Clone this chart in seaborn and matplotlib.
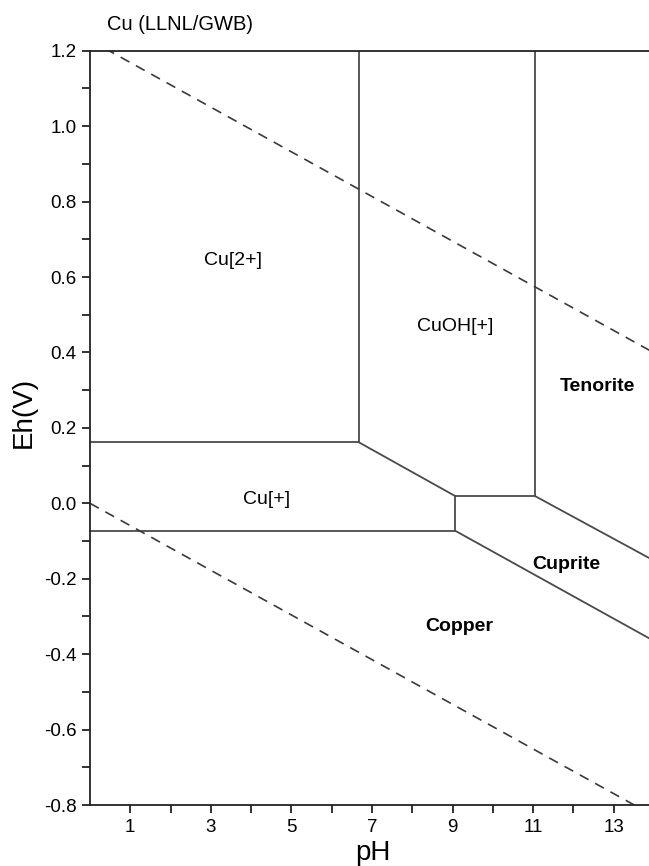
import matplotlib
matplotlib.use("Agg")
import matplotlib.pyplot as plt
import seaborn as sns

# --- boundary data (pH, Eh in V) ---
cu2_cu1_ph = [0.0, 6.67]
cu2_cu1_eh = [0.162, 0.162]
cu2_cuoh_ph = [6.67, 6.67]
cu2_cuoh_eh = [0.162, 1.2]
cuoh_ten_ph = [11.05, 11.05]
cuoh_ten_eh = [0.019, 1.2]
cuoh_cu1_ph = [6.67, 9.07]
cuoh_cu1_eh = [0.162, 0.019]
cuoh_cup_ph = [9.07, 11.05]
cuoh_cup_eh = [0.019, 0.019]
cu1_cup_ph = [9.07, 9.07]
cu1_cup_eh = [0.019, -0.073]
cu1_cu_ph = [0.0, 9.07]
cu1_cu_eh = [-0.073, -0.073]
cup_cu_ph = [9.07, 14.0]
cup_cu_eh = [-0.073, -0.365]
ten_cup_ph = [11.05, 14.0]
ten_cup_eh = [0.019, -0.152]

# water stability limits
o2_ph = [0.0, 14.0]
o2_eh = [1.228, 0.399]
h2_ph = [0.0, 14.0]
h2_eh = [0.0, -0.829]

# region labels
region_names = ['Cu[2+]', 'CuOH[+]', 'Tenorite', 'Cu[+]', 'Cuprite', 'Copper']
region_ph = [3.55, 9.06, 12.6, 4.38, 11.83, 9.16]
region_eh = [0.645, 0.47, 0.31, 0.009, -0.163, -0.327]
region_bold = [False, False, True, False, True, True]

x_major = [1, 3, 5, 7, 9, 11, 13]
x_minor = [2, 4, 6, 8, 10, 12, 14]
y_major = [-0.8, -0.6, -0.4, -0.2, 0.0, 0.2, 0.4, 0.6, 0.8, 1.0, 1.2]
y_minor = [-0.7, -0.5, -0.3, -0.1, 0.1, 0.3, 0.5, 0.7, 0.9, 1.1]

sns.set_theme(style="ticks")
plt.rcParams['font.family'] = ['Liberation Sans', 'DejaVu Sans']
plt.rcParams['axes.unicode_minus'] = False

fig = plt.figure(figsize=(6.49, 8.66), dpi=100)
# right edge of the axes runs past the figure, as in the cropped original
ax = fig.add_axes([0.1387, 0.0704, 0.869, 0.871])

segments = [
    (cu2_cu1_ph, cu2_cu1_eh), (cu2_cuoh_ph, cu2_cuoh_eh), (cuoh_ten_ph, cuoh_ten_eh),
    (cuoh_cu1_ph, cuoh_cu1_eh), (cuoh_cup_ph, cuoh_cup_eh), (cu1_cup_ph, cu1_cup_eh),
    (cu1_cu_ph, cu1_cu_eh), (cup_cu_ph, cup_cu_eh), (ten_cup_ph, ten_cup_eh),
]
for xs, ys in segments:
    sns.lineplot(x=xs, y=ys, ax=ax, estimator=None, sort=False,
                 color='#4a4a4a', linewidth=1.3)

# dashed water lines
for xs, ys in [(o2_ph, o2_eh), (h2_ph, h2_eh)]:
    sns.lineplot(x=xs, y=ys, ax=ax, estimator=None, sort=False,
                 color='#3a3a3a', linewidth=1.2, linestyle=(0, (6, 4.5)))

for name, px, py, bold in zip(region_names, region_ph, region_eh, region_bold):
    ax.text(px, py, name, ha='center', va='center', fontsize=14,
            fontweight='bold' if bold else 'normal', color='black')

ax.set_xlim(0, 14)
ax.set_ylim(-0.8, 1.2)
ax.set_xticks(x_major)
ax.set_xticks(x_minor, minor=True)
ax.set_yticks(y_major)
ax.set_yticks(y_minor, minor=True)
ax.set_yticklabels([f"{v:.1f}" for v in y_major])
ax.tick_params(which='both', direction='out', length=6, width=1.3, color='#222222',
               labelcolor='black', labelsize=13.5, top=False, right=False)
ax.tick_params(axis='x', pad=4)

for side in ['left', 'bottom', 'top', 'right']:
    ax.spines[side].set_visible(True)
    ax.spines[side].set_color('#222222')
    ax.spines[side].set_linewidth(1.3)

ax.set_xlabel('pH', fontsize=20, color='black')
ax.set_ylabel('Eh(V)', fontsize=20, color='black')
ax.xaxis.set_label_coords(0.502, -0.046)
ax.yaxis.set_label_coords(-0.095, 0.521)

fig.text(107 / 649, 1 - 25 / 866, 'Cu (LLNL/GWB)', ha='left', va='center',
         fontsize=14.5, color='black')

fig.savefig('out.png', dpi=100)
